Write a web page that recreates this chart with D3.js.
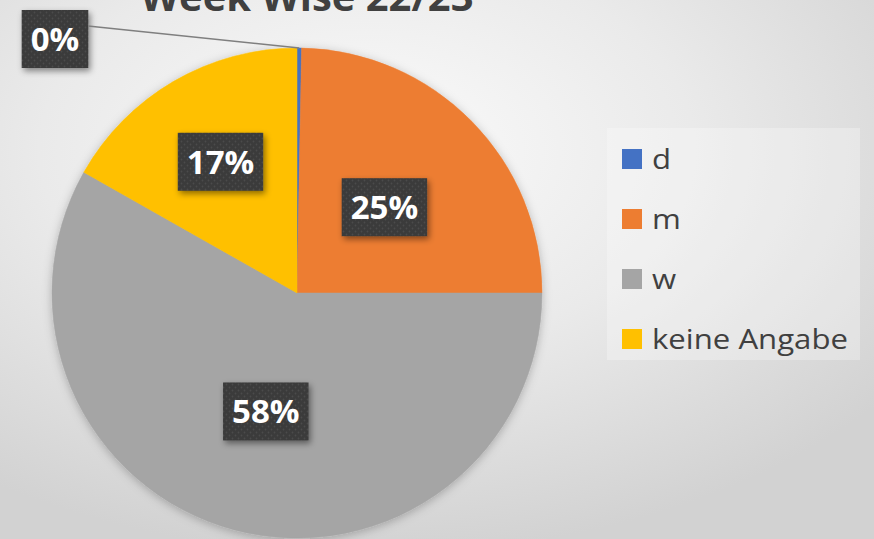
<!DOCTYPE html>
<html><head><meta charset="utf-8">
<script src="https://cdn.jsdelivr.net/npm/d3@7"></script>
<style>html,body{margin:0;padding:0;overflow:hidden;}svg{display:block;}</style>
</head><body>
<svg id="chart" width="874" height="539"></svg>
<script>
const title = "Week Wise 22/23";
const categories = ["d", "m", "w", "keine Angabe"];
const values = [0.3, 24.7, 58.2, 16.8];
const colors = ["#4472C4", "#ED7D31", "#A5A5A5", "#FFC000"];

const W = 874, H = 539;
const svg = d3.select("#chart");
const defs = svg.append("defs");

const bg = defs.append("radialGradient").attr("id","bg")
  .attr("cx","0.42").attr("cy","0.28").attr("r","0.75");
bg.append("stop").attr("offset","0").attr("stop-color","#fbfbfb");
bg.append("stop").attr("offset","0.5").attr("stop-color","#eaeaea");
bg.append("stop").attr("offset","1").attr("stop-color","#d2d2d2");
svg.append("rect").attr("width",W).attr("height",H).attr("fill","url(#bg)");

const pat = defs.append("pattern").attr("id","dots").attr("patternUnits","userSpaceOnUse")
  .attr("width",6).attr("height",6);
pat.append("rect").attr("width",6).attr("height",6).attr("fill","#3a3a3a");
pat.append("circle").attr("cx",1.5).attr("cy",1.5).attr("r",0.9).attr("fill","#4c4c4c");
pat.append("circle").attr("cx",4.5).attr("cy",4.5).attr("r",0.9).attr("fill","#4c4c4c");

const sh = defs.append("filter").attr("id","shadow").attr("x","-20%").attr("y","-20%").attr("width","150%").attr("height","150%");
sh.append("feDropShadow").attr("dx",2).attr("dy",3).attr("stdDeviation",3).attr("flood-color","#000").attr("flood-opacity",0.45);
const psh = defs.append("filter").attr("id","pshadow").attr("x","-10%").attr("y","-10%").attr("width","120%").attr("height","120%");
psh.append("feDropShadow").attr("dx",0).attr("dy",2).attr("stdDeviation",5).attr("flood-color","#000").attr("flood-opacity",0.25);

// title (cut off at top as in the original)
svg.append("text").attr("x",307).attr("y",11).attr("text-anchor","middle")
  .attr("font-family","'Open Sans', sans-serif").attr("font-weight","bold")
  .attr("font-size",40).attr("fill","#404040").attr("textLength",333).attr("lengthAdjust","spacingAndGlyphs")
  .text(title);

const cx = 297, cy = 293, R = 245;
const data = categories.map((c,i)=>({cat:c, value:values[i], color:colors[i]}));
const pie = d3.pie().value(d=>d.value).sort(null);
const arcs = pie(data);
const arc = d3.arc().innerRadius(0).outerRadius(R);

const g = svg.append("g").attr("transform",`translate(${cx},${cy})`);
g.append("g").attr("filter","url(#pshadow)").selectAll("path").data(arcs).join("path")
  .attr("d",arc).attr("fill",d=>d.data.color)
  .attr("stroke",d=>d.data.color).attr("stroke-width",0.5);

const total = d3.sum(values);
const fmt = v => Math.round(v/total*100) + "%";

arcs.forEach((a,i)=>{
  const frac = a.data.value/total;
  const mid = (a.startAngle+a.endAngle)/2;
  let lx, ly;
  const label = g.append("g");
  const txt = fmt(a.data.value);
  if (frac < 0.02) {
    lx = -242; ly = -254;
    const edge = [Math.sin(mid)*R, -Math.cos(mid)*R];
    g.append("polyline").attr("points",`${lx+33},${ly-13} ${edge[0]},${edge[1]}`)
      .attr("fill","none").attr("stroke","#7f7f7f").attr("stroke-width",1.5);
  } else {
    const rr = frac < 0.2 ? R*0.62 : R*0.5;
    lx = Math.sin(mid)*rr; ly = -Math.cos(mid)*rr;
  }
  const t = label.append("text").attr("x",lx).attr("y",ly+12).attr("text-anchor","middle")
    .attr("font-family","'Open Sans', sans-serif").attr("font-weight","bold")
    .attr("font-size",33).attr("fill","#ffffff").text(txt);
  const bw = t.node().getComputedTextLength() + 18;
  label.insert("rect","text").attr("x",lx-bw/2).attr("y",ly-29).attr("width",bw).attr("height",58)
    .attr("fill","url(#dots)").attr("filter","url(#shadow)");
});

// legend
const leg = svg.append("g");
leg.append("rect").attr("x",607).attr("y",128).attr("width",253).attr("height",232)
  .attr("fill","#ffffff").attr("fill-opacity",0.28);
const li = leg.selectAll("g.item").data(data).join("g").attr("class","item")
  .attr("transform",(d,i)=>`translate(622,${159+i*60})`);
li.append("rect").attr("x",0).attr("y",-10).attr("width",20).attr("height",20).attr("fill",d=>d.color);
const lt = li.append("text").attr("x",0).attr("y",0)
  .attr("font-family","'Open Sans', sans-serif")
  .attr("font-size",28).attr("fill","#404040").text(d=>d.cat);
const maxW = d3.max(lt.nodes(), n=>n.getComputedTextLength());
const sx = 196/maxW;
lt.attr("transform",`translate(30,10) scale(${sx},1)`);
</script>
</body></html>
